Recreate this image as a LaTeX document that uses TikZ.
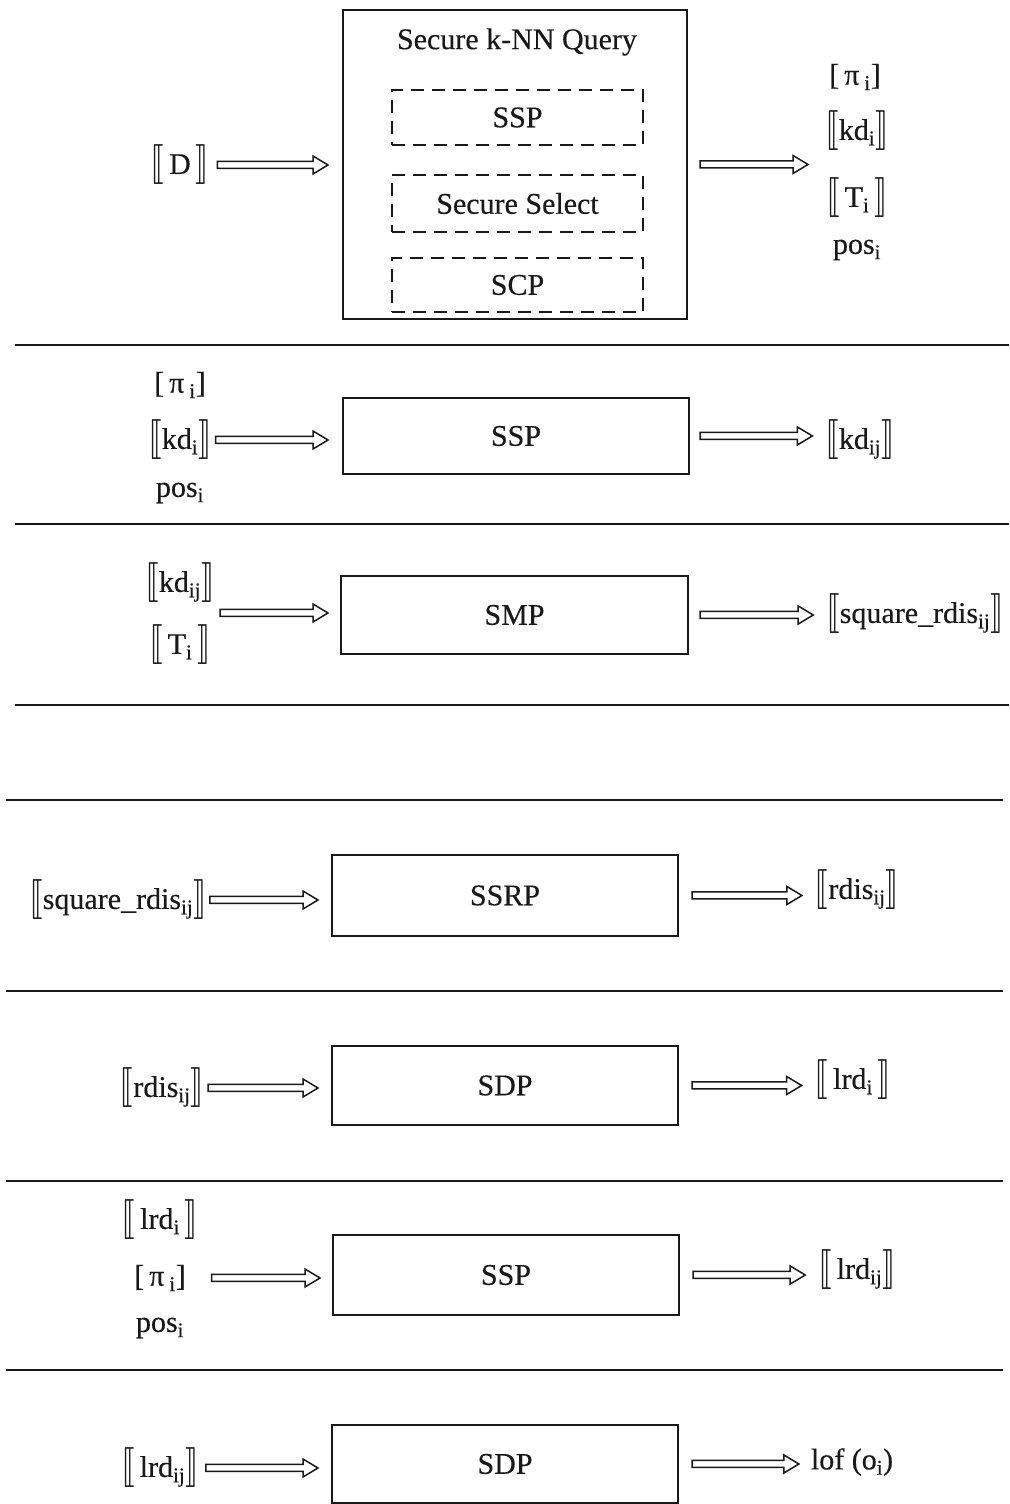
\documentclass[tikz,border=0pt]{standalone}
\usepackage{fontspec}
\setmainfont{Liberation Serif}[FakeBold=0.3]
\usepackage{stmaryrd}
\usepackage{graphicx}
\usetikzlibrary{calc}
\newcommand{\lbk}{\raisebox{-1pt}{\scalebox{1.35}[1.6]{$\llbracket$}}}
\newcommand{\rbk}{\raisebox{-1pt}{\scalebox{1.35}[1.6]{$\rrbracket$}}}

\begin{document}
\begin{tikzpicture}[x=1pt,y=1pt,
  every node/.style={font=\fontsize{30}{34}\selectfont,inner sep=0pt,outer sep=0pt,text=drawColor},
  block/.style={draw=drawColor,line width=1.6pt},
  dbox/.style={draw=drawColor,line width=1.4pt,dash pattern=on 13pt off 8pt},
  sep/.style={draw=drawColor,line width=1.6pt},
  hollow/.style={draw=drawColor,line width=1.5pt,line join=miter,
    to path={let \p1=(\tikztostart), \p2=(\tikztotarget) in
      (\x1,\y1+3.5pt) -- (\x2-15pt,\y1+3.5pt) -- (\x2-15pt,\y1+9pt) -- (\x2,\y1)
      -- (\x2-15pt,\y1-9pt) -- (\x2-15pt,\y1-3.5pt) -- (\x1,\y1-3.5pt) -- cycle}}]
\definecolor{drawColor}{RGB}{25,25,25}
\path[use as bounding box,fill=white] (0,0) rectangle (1009,1504);

\begin{scope}
\node[block,minimum width=344,minimum height=309] (knn) at (515,1339.5) {};
\node (title) at (517,1462) {Secure k-NN Query};
\node[dbox,minimum width=251,minimum height=55] (ssp1) at (517.5,1386.5) {SSP};
\node[dbox,minimum width=251,minimum height=57] (sel1) at (517.5,1300.5) {Secure Select};
\node[dbox,minimum width=251,minimum height=54] (scp1) at (517.5,1219) {SCP};

\node (d1) at (180,1339) {\lbk\,D\,\rbk};
\coordinate (o1) at (808,1339);
\node (pi1) at (855,1427) {[\,π\,\textsubscript{i}]};
\node (kd1) at (857,1373) {\lbk kd\textsubscript{i}\rbk};
\node (t1) at (857,1306) {\lbk\,T\textsubscript{i}\,\rbk};
\node (pos1) at (857,1254) {pos\textsubscript{i}};

\draw[hollow] ([xshift=8pt]d1.east) to ([xshift=-15pt]knn.west);
\draw[hollow] ([xshift=13pt]knn.east) to (o1);
\end{scope}

\draw[sep] (15,1159) -- (1009,1159);

\begin{scope}
\node[block,minimum width=346,minimum height=76] (ssp2) at (516,1068) {SSP};
\node (pi2) at (180,1119) {[\,π\,\textsubscript{i}]};
\node (kd2) at (180,1064) {\lbk kd\textsubscript{i}\rbk};
\node (pos2) at (180,1011) {pos\textsubscript{i}};
\node (kdij2) at (860,1064) {\lbk kd\textsubscript{ij}\rbk};

\draw[hollow] ([xshift=4pt]kd2.east) to ([xshift=-15pt]ssp2.west);
\draw[hollow] ([xshift=11pt]ssp2.east) to ([xshift=-13pt]kdij2.west);
\end{scope}

\draw[sep] (15,980) -- (1009,980);

\begin{scope}
\node[block,minimum width=347,minimum height=78] (smp3) at (514.5,889) {SMP};
\node (kdij3) at (180,921) {\lbk kd\textsubscript{ij}\rbk};
\node (t3) at (180,859) {\lbk\,T\textsubscript{i}\,\rbk};
\coordinate (a3) at (220,891);
\node (sq3) at (915,890) {\lbk square\_rdis\textsubscript{ij}\rbk};

\draw[hollow] (a3) to ([xshift=-13pt]smp3.west);
\draw[hollow] ([xshift=12pt]smp3.east) to ([xshift=-13pt]sq3.west);
\end{scope}

\draw[sep] (15,799) -- (1009,799);
\draw[sep] (6,704) -- (1003,704);

\begin{scope}
\node[block,minimum width=346,minimum height=81] (ssrp4) at (505,608.5) {SSRP};
\node (sq4) at (118,604) {\lbk square\_rdis\textsubscript{ij}\rbk};
\node (rdis4) at (857,614) {\lbk rdis\textsubscript{ij}\rbk};

\draw[hollow] ([xshift=3pt]sq4.east) to ([xshift=-14pt]ssrp4.west);
\draw[hollow] ([xshift=14pt]ssrp4.east) to ([xshift=-13pt]rdis4.west);
\end{scope}

\draw[sep] (6,513) -- (1003,513);

\begin{scope}
\node[block,minimum width=346,minimum height=79] (sdp5) at (505,418.5) {SDP};
\node (rdis5) at (162,416) {\lbk rdis\textsubscript{ij}\rbk};
\node (lrd5) at (853,424) {\lbk\,lrd\textsubscript{i}\,\rbk};

\draw[hollow] ([xshift=4pt]rdis5.east) to ([xshift=-14pt]sdp5.west);
\draw[hollow] ([xshift=14pt]sdp5.east) to ([xshift=-13pt]lrd5.west);
\end{scope}

\draw[sep] (6,323) -- (1003,323);

\begin{scope}
\node[block,minimum width=346,minimum height=80] (ssp6) at (506,229) {SSP};
\node (lrd6) at (160,284) {\lbk\,lrd\textsubscript{i}\,\rbk};
\node (pi6) at (160,226) {[\,π\,\textsubscript{i}]};
\node (pos6) at (160,176) {pos\textsubscript{i}};
\node (lrdij6) at (857,234) {\lbk\,lrd\textsubscript{ij}\rbk};

\draw[hollow] ([xshift=26pt]pi6.east) to ([xshift=-13pt]ssp6.west);
\draw[hollow] ([xshift=14pt]ssp6.east) to ([xshift=-13pt]lrdij6.west);
\end{scope}

\draw[sep] (6,134) -- (1003,134);

\begin{scope}
\node[block,minimum width=346,minimum height=78] (sdp7) at (505,40) {SDP};
\node (lrdij7) at (160,36) {\lbk\,lrd\textsubscript{ij}\rbk};
\node (lof7) at (852,42) {lof (o\textsubscript{i})};

\draw[hollow] ([xshift=7pt]lrdij7.east) to ([xshift=-14pt]sdp7.west);
\draw[hollow] ([xshift=14pt]sdp7.east) to ([xshift=-12pt]lof7.west);
\end{scope}
\end{tikzpicture}
\end{document}
